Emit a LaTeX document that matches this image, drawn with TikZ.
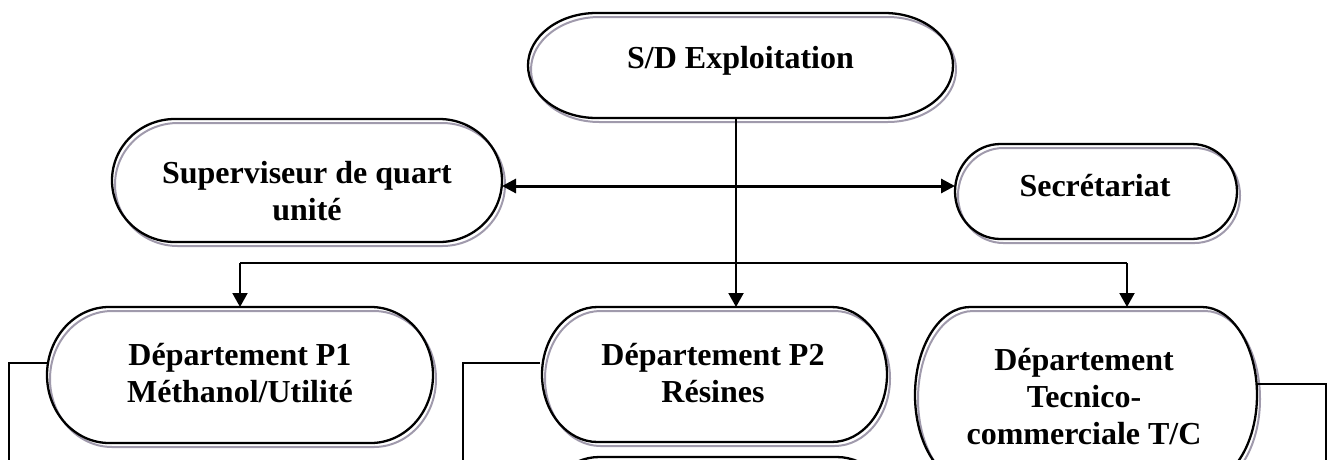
\documentclass[tikz,border=0pt]{standalone}
\usepackage{fontspec}
\setmainfont{Liberation Serif}
\usetikzlibrary{arrows.meta,calc}

\definecolor{shadowgray}{RGB}{160,154,172}

\tikzset{
  box/.style={rectangle, inner sep=0pt, outer sep=0pt},
  lbl/.style={font=\bfseries\fontsize{32}{37}\selectfont, align=center, anchor=base, inner sep=0pt},
  outline/.style={draw=black, line width=2.3pt},
  ghost/.style={draw=shadowgray, line width=2pt},
  wire/.style={draw=black, line width=2pt},
  downtip/.style={wire, -{Triangle[length=14pt,width=15pt]}},
  twotips/.style={draw=black, line width=3pt,
    {Triangle[length=14pt,width=14pt]}-{Triangle[length=14pt,width=14pt]}},
}

% terminator outline (flat top and bottom, elliptic ends) around a named node
\newcommand\terminator[1]{%
  let \p1=(#1.south west), \p2=(#1.north east),
      \n1={0.161*(\x2-\x1)}, \n2={(\y2-\y1)/2} in
  ({\x1+\n1*1pt},\y2) -- ({\x2-\n1*1pt},\y2)
  arc[start angle=90, end angle=-90, x radius={\n1*1pt}, y radius={\n2*1pt}]
  -- ({\x1+\n1*1pt},\y1)
  arc[start angle=270, end angle=90, x radius={\n1*1pt}, y radius={\n2*1pt}] -- cycle}

\begin{document}
\begin{tikzpicture}[x=1pt, y=-1pt]
\useasboundingbox (0,0) rectangle (1330,459);
\clip (0,0) rectangle (1330,459);

% boxes
\node[box, minimum width=425pt, minimum height=105pt] (sd)  at (740.5,65.5) {};
\node[box, minimum width=390pt, minimum height=123pt] (sup) at (307,180.5) {};
\node[box, minimum width=282pt, minimum height=95pt]  (sec) at (1096,191.5) {};
\node[box, minimum width=386pt, minimum height=136pt] (p1)  at (240,375) {};
\node[box, minimum width=345pt, minimum height=135pt] (p2)  at (714.5,374.5) {};
\node[box, minimum width=342pt, minimum height=176pt] (p3)  at (1086,395) {};
\node[box, minimum width=350pt, minimum height=120pt] (p4)  at (718,517) {};

% grey offset shadow first, black outline on top
\begin{scope}[transform canvas={xshift=3pt, yshift=-4pt}]
\foreach \b in {sd,sup,sec,p1,p2,p3,p4}{
  \draw[ghost] \terminator{\b};
}
\end{scope}
\foreach \b in {sd,sup,sec,p1,p2,p3,p4}{
  \draw[outline] \terminator{\b};
}

% labels (base = last line)
\node[lbl] (sdt)  at (740.5,68) {S/D Exploitation};
\node[lbl] (supt) at (307,220) {Superviseur de quart\\unité};
\node[lbl] (sect) at (1095,196) {Secrétariat};
\node[lbl] (p1t)  at (240,402) {Département P1\\Méthanol/Utilité};
\node[lbl] (p2t)  at (713,402) {Département P2\\Résines};
\node[lbl] (p3t)  at (1084,444) {Département\\Tecnico-\\commerciale T/C};

% connectors
\coordinate (trunk) at (736,263);
\coordinate (bl) at (240,263);
\coordinate (br) at (1127,263);
\coordinate (mid) at (736,186);

\draw[downtip] (sd.south -| trunk) -- (p2.north -| trunk);
\draw[wire] (bl) -- (br);
\draw[downtip] (bl) -- (bl |- p1.north);
\draw[downtip] (br) -- (br |- p3.north);
\draw[twotips] (sup.east |- mid) -- (sec.west |- mid);

% side feeds running off the lower edge
\coordinate (l1) at (9,363);
\coordinate (l1b) at (9,470);
\coordinate (l2) at (463,363);
\coordinate (l2b) at (463,470);
\coordinate (l3) at (1326,384);
\coordinate (l3b) at (1326,470);
\draw[wire] (p1.west |- l1) -- (l1) -- (l1b);
\draw[wire] ([xshift=-2pt]p2.west |- l2) -- (l2) -- (l2b);
\draw[wire] (p3.east |- l3) -- (l3) -- (l3b);
\end{tikzpicture}
\end{document}
